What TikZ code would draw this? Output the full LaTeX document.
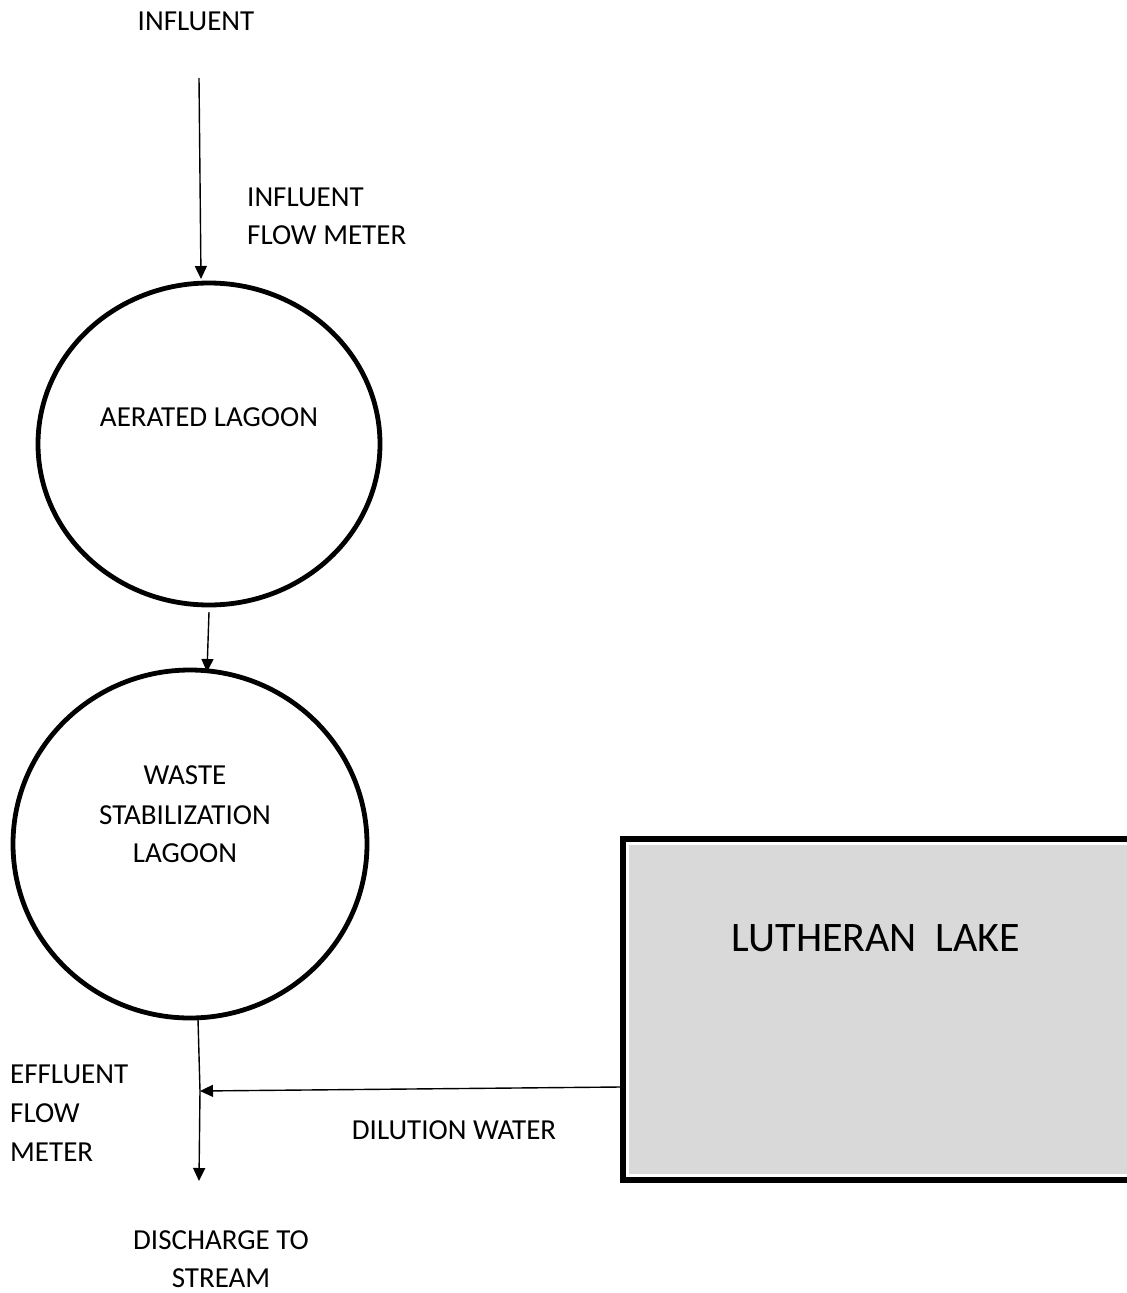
\documentclass[tikz,border=0pt]{standalone}
\usepackage{fontspec}
\setmainfont{Carlito}
\usetikzlibrary{shapes.geometric,arrows.meta}
\definecolor{lakegray}{HTML}{D9D9D9}
\tikzset{
  lbl/.style={inner sep=0pt,font=\fontsize{29}{29}\selectfont},
  lblL/.style={lbl,anchor=west},
  lagoon/.style={ellipse,draw,line width=4.8pt,inner sep=0pt},
  flow/.style={draw,line width=1.4pt,-{Triangle[length=13pt,width=12pt]}},
}
\begin{document}
\begin{tikzpicture}[x=1pt,y=-1pt]
\useasboundingbox (0,0) rectangle (1127,1293);
% texts
\node[lbl] (influent) at (196,21) {INFLUENT};
\node[lblL] (ifm1) at (247,197) {INFLUENT};
\node[lblL] (ifm2) at (247,235) {FLOW METER};
% lagoons
\node[lagoon,minimum width=342pt,minimum height=322pt] (aer) at (209,444) {};
\node[lbl] (aertxt) at (209,417) {AERATED LAGOON};
\node[lagoon,minimum width=354pt,minimum height=348pt] (wsl) at (190,844) {};
\node[lbl] (w1) at (185,775) {WASTE};
\node[lbl] (w2) at (185,815) {STABILIZATION};
\node[lbl] (w3) at (185,853) {LAGOON};
% lake
\fill[black] (620,836) rectangle (1140,1183);
\fill[white] (626,842) rectangle (1134,1177);
\fill[lakegray] (629,845) rectangle (1131,1174);
\coordinate (lakeW) at (620,1087);
\node[inner sep=0pt,font=\fontsize{42}{42}\selectfont] (lake) at (876,938) {LUTHERAN\ \ LAKE};
% effluent labels
\node[lblL] (e1) at (10,1074) {EFFLUENT};
\node[lblL] (e2) at (10,1113) {FLOW};
\node[lblL] (e3) at (10,1152) {METER};
\node[lbl] (dil) at (454,1130) {DILUTION WATER};
\node[lbl] (d1) at (221,1240) {DISCHARGE TO};
\node[lbl] (d2) at (221,1278) {STREAM};
% connectors
\coordinate (inStart) at (199,78);
\coordinate (inEnd) at (201,279);
\coordinate (effEnd) at (199,1181);
\coordinate (join) at (200,1091);
\draw[flow] (inStart) -- (inEnd);
\draw[flow] (209,612) -- (207,672);
\draw[draw,line width=1.4pt] (198,1019) -- (join);
\draw[flow] (join) -- (effEnd);
\draw[flow] (lakeW) -- (join);
\end{tikzpicture}
\end{document}
